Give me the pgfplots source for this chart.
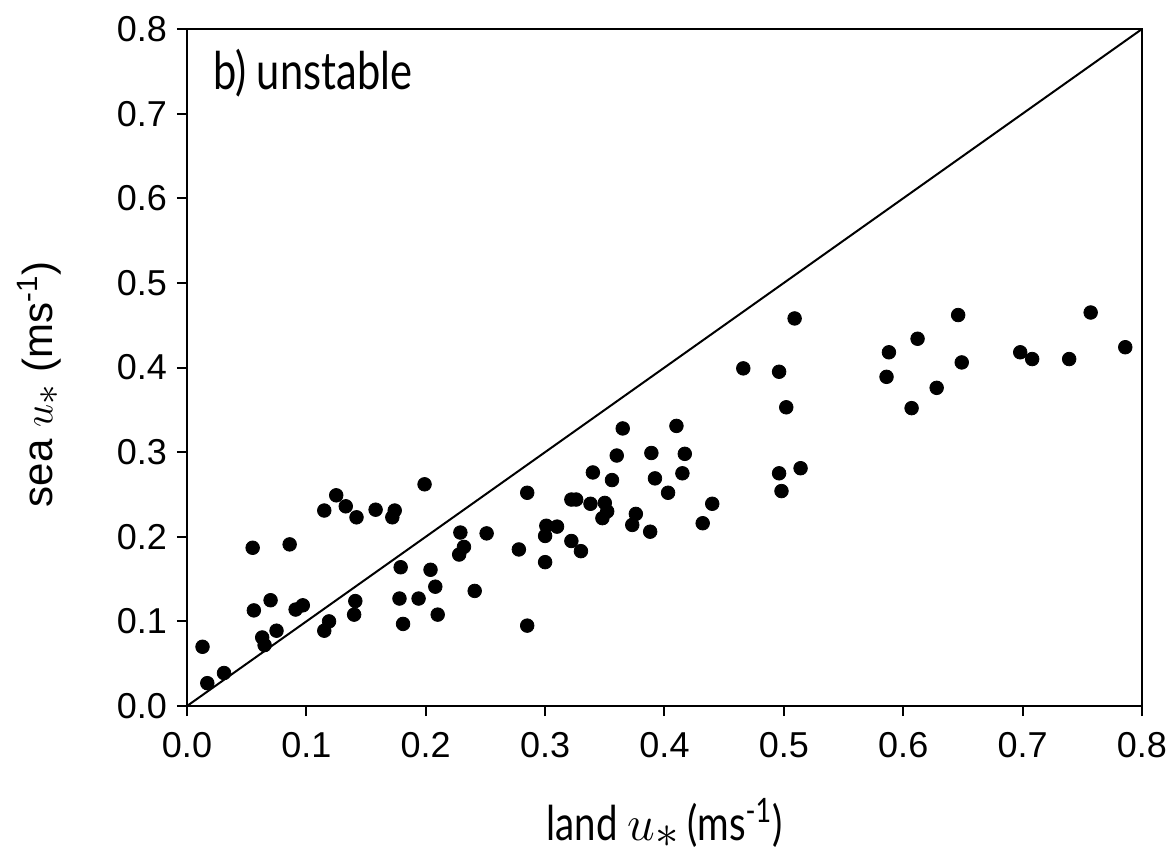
\documentclass[border=0pt]{standalone}
\usepackage{fontspec}
\setmainfont{Liberation Sans}
\newfontfamily\gill[FakeStretch=0.8]{Lato}
\usepackage{pgfplots}
\pgfplotsset{compat=1.18}
\newcommand{\ustar}{$u_{\scalebox{1.35}{$\scriptstyle\ast$}}$}
\begin{document}
\begin{tikzpicture}
\useasboundingbox (-93.5pt,-76.5pt) rectangle (494.5pt,353pt);
\begin{axis}[
  scale only axis,
  width=477.5pt, height=338.5pt,
  xmin=0, xmax=0.8, ymin=0, ymax=0.8,
  xtick={0,0.1,...,0.8}, ytick={0,0.1,...,0.8},
  xtick pos=bottom, ytick pos=left,
  tick align=outside,
  major tick length=5pt,
  every tick/.style={black, line width=1pt},
  axis line style={line width=1pt},
  /pgf/number format/assume math mode=true,
  xticklabel={\pgfmathprintnumber[fixed,fixed zerofill,precision=1]{\tick}},
  yticklabel={\pgfmathprintnumber[fixed,fixed zerofill,precision=1]{\tick}},
  tick label style={font=\fontsize{18}{20}\selectfont},
  xticklabel style={yshift=-4.5pt},
  yticklabel style={xshift=-1.5pt},
  xlabel={\gill\fontsize{24}{26}\selectfont land \ustar\,(ms\textsuperscript{-1})},
  ylabel={\fontsize{21}{24}\selectfont sea \ustar\ (ms\textsuperscript{-1})},
  xlabel style={at={(axis description cs:0.5,-0.198)}, anchor=base},
  ylabel style={at={(axis description cs:-0.155,0.475)}, anchor=center},
  clip=false,
]
\addplot[black, line width=1pt, no marks] coordinates {(0,0) (0.8,0.8)};
\addplot[only marks, mark=*, mark size=3.4pt, black] coordinates {
(0.013,0.070) (0.017,0.027) (0.031,0.039) (0.055,0.187) (0.056,0.113)
(0.070,0.125) (0.063,0.081) (0.065,0.072) (0.075,0.089) (0.086,0.191)
(0.091,0.114) (0.097,0.119) (0.115,0.231) (0.125,0.249) (0.133,0.236)
(0.142,0.223) (0.158,0.232) (0.174,0.231) (0.172,0.223) (0.199,0.262)
(0.115,0.089) (0.119,0.100) (0.140,0.108) (0.141,0.124) (0.179,0.164)
(0.178,0.127) (0.181,0.097) (0.194,0.127) (0.204,0.161) (0.208,0.141)
(0.210,0.108) (0.229,0.205) (0.232,0.188) (0.228,0.179) (0.241,0.136)
(0.251,0.204) (0.285,0.252) (0.278,0.185) (0.300,0.170) (0.285,0.095)
(0.301,0.213) (0.310,0.212) (0.300,0.201) (0.322,0.195) (0.330,0.183)
(0.322,0.244) (0.326,0.244) (0.338,0.239) (0.340,0.276) (0.350,0.240)
(0.352,0.230) (0.348,0.222) (0.356,0.267) (0.360,0.296) (0.365,0.328)
(0.376,0.227) (0.373,0.214) (0.388,0.206) (0.389,0.299) (0.392,0.269)
(0.403,0.252) (0.410,0.331) (0.417,0.298) (0.415,0.275) (0.432,0.216)
(0.440,0.239) (0.466,0.399) (0.496,0.395) (0.502,0.353) (0.509,0.458)
(0.496,0.275) (0.514,0.281) (0.498,0.254) (0.588,0.418) (0.586,0.389)
(0.612,0.434) (0.607,0.352) (0.628,0.376) (0.646,0.462) (0.649,0.406)
(0.698,0.418) (0.708,0.410) (0.739,0.410) (0.757,0.465) (0.786,0.424)
};
\node[anchor=base west, inner sep=0pt, font=\gill\fontsize{26}{28}\selectfont] at (axis description cs:0.027,0.91) {b) unstable};
\end{axis}
\end{tikzpicture}
\end{document}
